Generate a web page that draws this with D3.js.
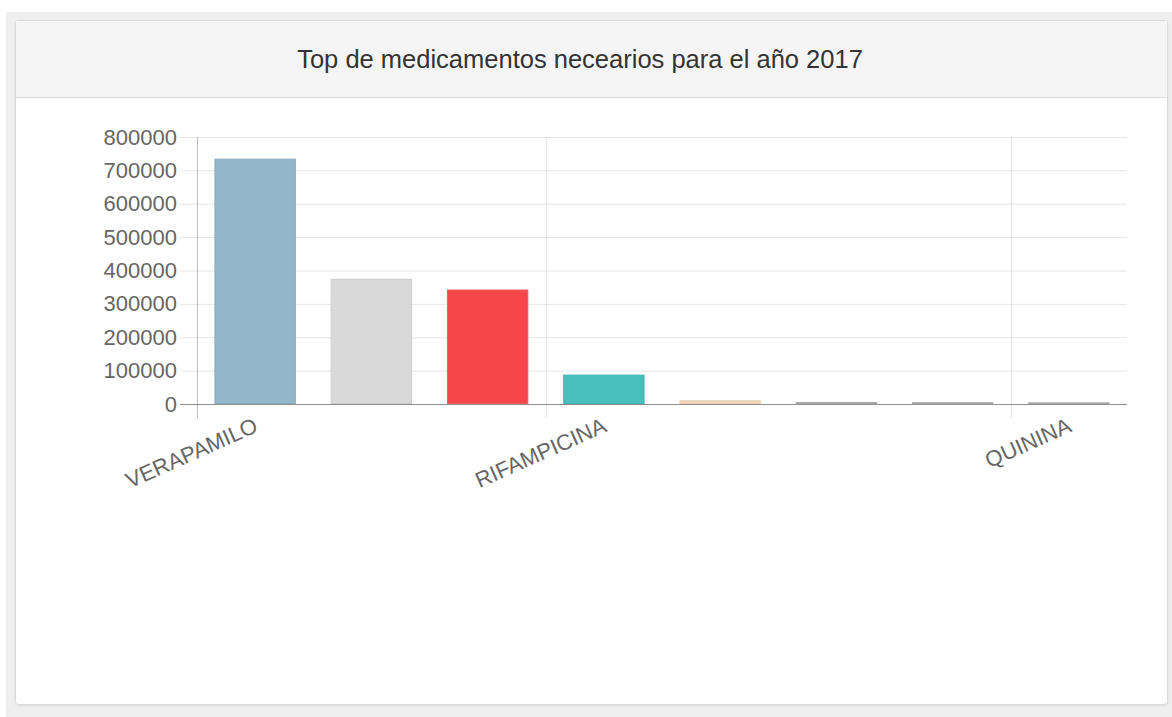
<!DOCTYPE html>
<html lang="es">
<head>
<meta charset="utf-8">
<title>Top de medicamentos necearios para el año 2017</title>
<script src="https://cdn.jsdelivr.net/npm/d3@7/dist/d3.min.js"></script>
<style>
  html, body { margin: 0; padding: 0; background: #ffffff; }
  svg { display: block; font-family: Arial, "Liberation Sans", Helvetica, sans-serif; }
</style>
</head>
<body>
<svg id="chart" width="1172" height="717"></svg>
<script>
// Cantidades requeridas por medicamento (2017)
const categories = ["VERAPAMILO", "", "", "RIFAMPICINA", "", "", "", "QUININA"];
const values = [735000, 375000, 343000, 88000, 11000, 6000, 5500, 5000];
const barColors = ["#93b6cb", "#d9d9d9", "#f7464a", "#46bfbd", "#f1d8c0", "#c9c9c9", "#c9c9c9", "#c9c9c9"];
const barBorders = ["#86aac0", "#cccccc", "#f25a5d", "#3fb5b3", "#e8cbb0", "#a9a9a9", "#a9a9a9", "#a9a9a9"];
const yTicks = [0, 100000, 200000, 300000, 400000, 500000, 600000, 700000, 800000];
const chartTitle = "Top de medicamentos necearios para el año 2017";

const svg = d3.select("#chart");

// Soft shadow around the panel frame
const defs = svg.append("defs");
defs.append("filter").attr("id", "panelShadow")
  .attr("x", "-2%").attr("y", "-2%").attr("width", "104%").attr("height", "104%")
  .append("feDropShadow")
  .attr("dx", 0).attr("dy", 1).attr("stdDeviation", 1.2)
  .attr("flood-color", "#000000").attr("flood-opacity", 0.08);

// Panel background and frame
svg.append("rect").attr("x", 6).attr("y", 12).attr("width", 1166).attr("height", 705).attr("fill", "#efefef");
svg.append("rect").attr("x", 15.5).attr("y", 20.5).attr("width", 1152).attr("height", 684)
  .attr("rx", 3).attr("fill", "#ffffff").attr("stroke", "#dadada")
  .attr("filter", "url(#panelShadow)");
svg.append("rect").attr("x", 16).attr("y", 21).attr("width", 1151).attr("height", 76).attr("fill", "#f5f5f5");
svg.append("line").attr("x1", 16).attr("x2", 1167).attr("y1", 97.5).attr("y2", 97.5).attr("stroke", "#dddddd");

svg.append("text")
  .attr("x", 580).attr("y", 68)
  .attr("text-anchor", "middle")
  .attr("font-size", 25.5)
  .attr("fill", "#333333")
  .text(chartTitle);

// Plot area
const plotLeft = 197, plotRight = 1127, plotTop = 137, plotBottom = 404;
const zeroColor = "rgba(0,0,0,0.25)", gridColor = "rgba(0,0,0,0.1)";

const x = d3.scaleBand()
  .domain(d3.range(categories.length))
  .range([plotLeft, plotRight])
  .paddingInner(0.3)
  .paddingOuter(0.15);

const y = d3.scaleLinear()
  .domain([0, 800000])
  .range([plotBottom, plotTop]);

// Y axis with horizontal grid lines
const yAxis = svg.append("g")
  .attr("transform", `translate(${plotLeft},0)`)
  .call(d3.axisLeft(y)
    .tickValues(yTicks)
    .tickFormat(d3.format("d"))
    .tickSizeInner(-(plotRight - plotLeft))
    .tickSizeOuter(0)
    .tickPadding(20));
yAxis.select(".domain").remove();
yAxis.selectAll(".tick line")
  .attr("x1", -17)
  .attr("stroke", d => d === 0 ? zeroColor : gridColor);
yAxis.selectAll(".tick text")
  .attr("font-size", 22)
  .attr("font-family", "Arial, 'Liberation Sans', sans-serif")
  .attr("fill", "#666666");

// Vertical grid lines at the labelled category boundaries
const labelled = d3.range(categories.length).filter(i => categories[i] !== "");
const boundary = i => x(i) - x.step() * x.paddingOuter();
svg.append("g").selectAll("line")
  .data(labelled)
  .join("line")
  .attr("x1", d => boundary(d) + 0.5)
  .attr("x2", d => boundary(d) + 0.5)
  .attr("y1", plotTop)
  .attr("y2", plotBottom + 14)
  .attr("stroke", d => d === 0 ? zeroColor : gridColor);

// Bars
svg.append("g").selectAll("rect")
  .data(values)
  .join("rect")
  .attr("x", (d, i) => x(i) + 0.5)
  .attr("width", x.bandwidth() - 1)
  .attr("y", d => y(d) + 0.5)
  .attr("height", d => Math.max(0, plotBottom - y(d) - 1))
  .attr("fill", (d, i) => barColors[i])
  .attr("stroke", (d, i) => barBorders[i])
  .attr("stroke-width", 1);

// Zero line drawn over the bars
svg.append("line")
  .attr("x1", plotLeft - 17).attr("x2", plotRight)
  .attr("y1", y(0) + 0.5).attr("y2", y(0) + 0.5)
  .attr("stroke", zeroColor);

// Rotated category labels
svg.append("g").selectAll("text")
  .data(labelled)
  .join("text")
  .attr("transform", d => `translate(${x(d) + x.bandwidth() / 2 + 1},424) rotate(-24)`)
  .attr("text-anchor", "end")
  .attr("dy", "0.35em")
  .attr("font-size", 22)
  .attr("fill", "#666666")
  .text(d => categories[d]);
</script>
</body>
</html>
